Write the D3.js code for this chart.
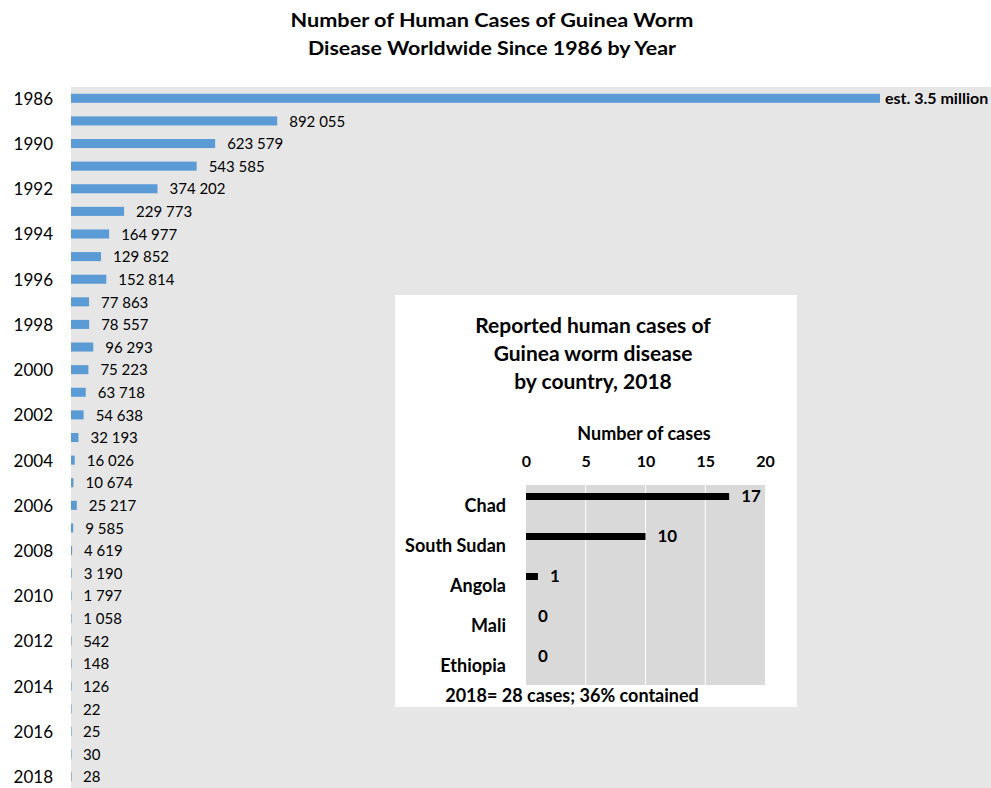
<!DOCTYPE html>
<html>
<head>
<meta charset="utf-8">
<script src="https://cdn.jsdelivr.net/npm/d3@7"></script>
<style>
  html, body { margin: 0; padding: 0; background: #ffffff; }
  svg { display: block; font-family: Lato, "Open Sans", sans-serif; }
</style>
</head>
<body>
<svg id="chart" width="991" height="788"></svg>
<script>
// ---- Main chart data ----
const years = ["1986","1989","1990","1991","1992","1993","1994","1995","1996","1997","1998","1999","2000",
  "2001","2002","2003","2004","2005","2006","2007","2008","2009","2010","2011","2012","2013","2014","2015",
  "2016","2017","2018"];
const cases = [3500000, 892055, 623579, 543585, 374202, 229773, 164977, 129852, 152814, 77863, 78557, 96293,
  75223, 63718, 54638, 32193, 16026, 10674, 25217, 9585, 4619, 3190, 1797, 1058, 542, 148, 126, 22, 25, 30, 28];
const yearTickLabels = ["1986","1990","1992","1994","1996","1998","2000","2002","2004","2006","2008","2010",
  "2012","2014","2016","2018"];
const firstLabel = "est. 3.5 million";
const mainTitle = ["Number of Human Cases of Guinea Worm", "Disease Worldwide Since 1986 by Year"];

// ---- Inset data ----
const countries = ["Chad", "South Sudan", "Angola", "Mali", "Ethiopia"];
const countryCases = [17, 10, 1, 0, 0];
const insetTicks = [0, 5, 10, 15, 20];
const insetTitle = ["Reported human cases of", "Guinea worm disease", "by country, 2018"];
const insetAxisTitle = "Number of cases";
const insetFooter = "2018= 28 cases; 36% contained";

const svg = d3.select("#chart");
const fmt = d3.formatLocale({decimal: ".", thousands: " ", grouping: [3], currency: ["", ""]}).format(",d");

// ---- Main plot ----
const plot = {left: 71, right: 991, top: 87, bottom: 788};
svg.append("rect")
  .attr("x", plot.left).attr("y", plot.top)
  .attr("width", plot.right - plot.left).attr("height", plot.bottom - plot.top)
  .attr("fill", "#e6e6e6");

const x = d3.scaleLinear().domain([0, 3500000]).range([plot.left, 880]);
const y = d3.scaleBand().domain(years).range([plot.top, plot.bottom]).paddingInner(0.6).paddingOuter(0.3);

const rows = years.map((yr, i) => ({year: yr, value: cases[i], i}));

svg.append("g").selectAll("rect").data(rows).join("rect")
  .attr("x", x(0))
  .attr("y", d => y(d.year))
  .attr("width", d => Math.max(0.6, x(d.value) - x(0)))
  .attr("height", y.bandwidth())
  .attr("fill", "#5b9bd5");

svg.append("g").selectAll("text").data(rows).join("text")
  .attr("x", d => x(d.value) + (d.i === 0 ? 5 : 12))
  .attr("y", d => y(d.year) + y.bandwidth() / 2)
  .attr("dy", "0.38em")
  .attr("font-size", d => d.i === 0 ? 16 : 15)
  .attr("font-weight", d => d.i === 0 ? "bold" : "normal")
  .attr("fill", "#000")
  .text(d => d.i === 0 ? firstLabel : fmt(d.value));

// Y axis (year labels, every other row)
const yAxis = d3.axisLeft(y).tickValues(yearTickLabels).tickSize(0).tickPadding(18);
const yg = svg.append("g").attr("transform", `translate(${plot.left},0)`).call(yAxis);
yg.select(".domain").remove();
yg.selectAll("text").attr("font-size", 17).attr("font-family", "Lato, sans-serif").attr("fill", "#000").attr("dy", "0.38em");

// Main title
const titleWidths = [403, 368];
svg.append("g").selectAll("text").data(mainTitle).join("text")
  .attr("x", 492).attr("y", (d, i) => 27 + i * 28)
  .attr("text-anchor", "middle")
  .attr("font-size", 19).attr("font-weight", "bold")
  .attr("textLength", (d, i) => titleWidths[i]).attr("lengthAdjust", "spacingAndGlyphs")
  .text(d => d);

// ---- Inset ----
svg.append("rect").attr("x", 395).attr("y", 295).attr("width", 402).attr("height", 412).attr("fill", "#ffffff");

const ip = {left: 526, right: 765, top: 485, bottom: 685};
svg.append("rect").attr("x", ip.left).attr("y", ip.top)
  .attr("width", ip.right - ip.left).attr("height", ip.bottom - ip.top).attr("fill", "#d9d9d9");

const ix = d3.scaleLinear().domain([0, 20]).range([ip.left, ip.right]);
const iy = d3.scaleBand().domain(countries).range([ip.top, ip.bottom]);

// gridlines
svg.append("g").selectAll("line").data(insetTicks.filter(t => t > 0 && t < 20)).join("line")
  .attr("x1", d => ix(d)).attr("x2", d => ix(d))
  .attr("y1", ip.top).attr("y2", ip.bottom)
  .attr("stroke", "#ffffff").attr("stroke-width", 1);

// top axis
const xAxisTop = d3.axisTop(ix).tickValues(insetTicks).tickSize(0).tickPadding(0);
const xg = svg.append("g").attr("transform", "translate(0,467)").call(xAxisTop);
xg.select(".domain").remove();
xg.selectAll("text").attr("font-size", 16).attr("font-weight", "bold").attr("font-family", "Lato, sans-serif")
  .attr("fill", "#000").attr("dy", 0);

svg.append("text").attr("x", 644).attr("y", 440).attr("text-anchor", "middle")
  .attr("font-size", 18).attr("font-weight", "bold").text(insetAxisTitle);

const crow = countries.map((c, i) => ({c, v: countryCases[i]}));
svg.append("g").selectAll("rect").data(crow).join("rect")
  .attr("x", ix(0)).attr("y", d => iy(d.c) + 8)
  .attr("width", d => ix(d.v) - ix(0)).attr("height", 7)
  .attr("fill", "#000");

svg.append("g").selectAll("text").data(crow).join("text")
  .attr("x", d => ix(d.v) + 12).attr("y", d => iy(d.c) + 17)
  .attr("font-size", 17).attr("font-weight", "bold").text(d => d.v);

svg.append("g").selectAll("text").data(crow).join("text")
  .attr("x", 506).attr("y", d => iy(d.c) + 27).attr("text-anchor", "end")
  .attr("font-size", 18).attr("font-weight", "bold").text(d => d.c);

svg.append("g").selectAll("text").data(insetTitle).join("text")
  .attr("x", 593).attr("y", (d, i) => 333 + i * 28).attr("text-anchor", "middle")
  .attr("font-size", 21).attr("font-weight", "bold").text(d => d);

svg.append("text").attr("x", 572).attr("y", 702).attr("text-anchor", "middle")
  .attr("font-size", 18).attr("font-weight", "bold").text(insetFooter);
</script>
</body>
</html>
